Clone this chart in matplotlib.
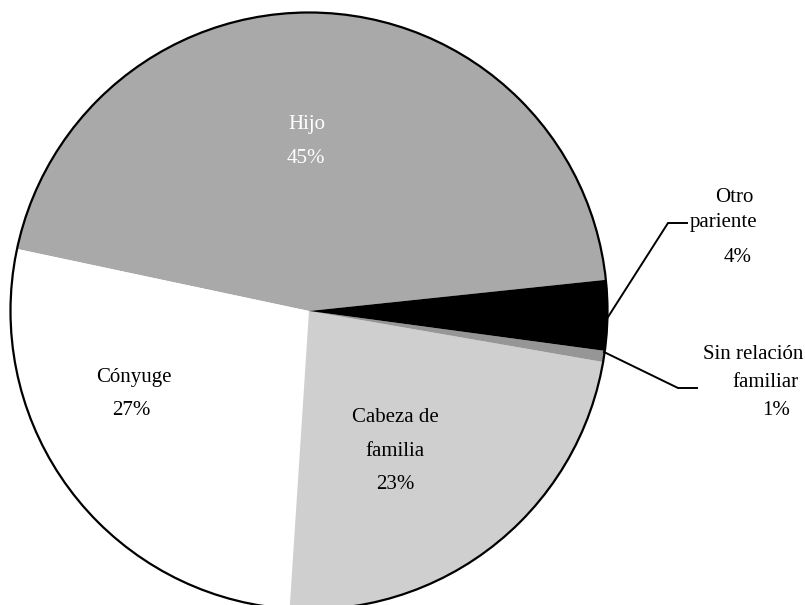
import matplotlib
matplotlib.use("Agg")
import matplotlib.pyplot as plt
from matplotlib.patches import Circle

# Household relationship shares (%)
categories = ["Hijo", "Cónyuge", "Cabeza de familia", "Sin relación familiar", "Otro pariente"]
shares = [45.0, 27.3, 23.3, 0.6, 3.8]
slice_colors = ["#A9A9A9", "#FFFFFF", "#CFCFCF", "#969696", "#000000"]

W, H = 805, 605
fig = plt.figure(figsize=(W / 100, H / 100), dpi=100)
ax = fig.add_axes([0, 0, 1, 1])

cx, cy, r = 309, H - 311, 298.5

ax.pie(shares, colors=slice_colors, startangle=6, counterclock=True,
       center=(cx, cy), radius=r, wedgeprops=dict(linewidth=0))
ax.add_patch(Circle((cx, cy), r, fill=False, edgecolor="black", linewidth=1.6, zorder=5))

ax.set_xlim(0, W)
ax.set_ylim(0, H)
ax.set_aspect("equal")
ax.axis("off")

font = dict(family="Liberation Serif", fontsize=15)
pct = {c: f"{round(v)}%" for c, v in zip(categories, shares)}


def put(x, y, s, color="black"):
    ax.text(x, H - y, s, ha="center", va="baseline", color=color, **font)


# In-slice labels
put(307, 129, "Hijo", "white")
put(306, 163, pct["Hijo"], "white")
put(134, 382, "Cónyuge")
put(131, 415, pct["Cónyuge"])
put(395, 422, "Cabeza de")
put(395, 456, "familia")
put(395, 489, pct["Cabeza de familia"])

# Outside labels with leader lines
put(734, 202, "Otro")
put(724, 227, "pariente")
put(738, 262, pct["Otro pariente"])
ax.plot([608, 668, 687], [H - 317, H - 223, H - 223], color="black", lw=1.4,
        solid_joinstyle="miter", zorder=6)

put(753, 359, "Sin relación")
put(765, 387, "familiar")
put(776, 415, pct["Sin relación familiar"])
ax.plot([604, 678, 697], [H - 352, H - 388, H - 388], color="black", lw=1.4,
        solid_joinstyle="miter", zorder=6)

fig.savefig("out.png", dpi=100)
